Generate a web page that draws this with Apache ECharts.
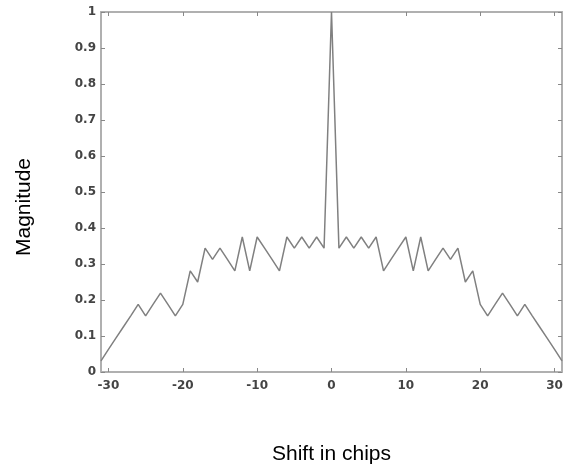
<!DOCTYPE html>
<html lang="en">
<head>
    <meta charset="UTF-8">
    <title>Shift in chips vs Magnitude</title>
    <script src="https://cdn.jsdelivr.net/npm/echarts@6/dist/echarts.min.js"></script>
    <style>
        html, body { margin: 0; padding: 0; background: #fff; }
        #chart-container { width: 568px; height: 470px; }
    </style>
</head>
<body>
    <div id="chart-container"></div>
    <script>
        var shifts = [-31, -30, -29, -28, -27, -26, -25, -24, -23, -22, -21, -20, -19, -18, -17, -16,
            -15, -14, -13, -12, -11, -10, -9, -8, -7, -6, -5, -4, -3, -2, -1, 0,
            1, 2, 3, 4, 5, 6, 7, 8, 9, 10, 11, 12, 13, 14, 15,
            16, 17, 18, 19, 20, 21, 22, 23, 24, 25, 26, 27, 28, 29, 30, 31];
        var magnitude = [0.031, 0.063, 0.094, 0.125, 0.156, 0.188, 0.156, 0.188, 0.219, 0.188, 0.156, 0.188, 0.281, 0.25, 0.344, 0.313,
            0.344, 0.313, 0.281, 0.375, 0.281, 0.375, 0.344, 0.313, 0.281, 0.375, 0.344, 0.375, 0.344, 0.375, 0.344, 1,
            0.344, 0.375, 0.344, 0.375, 0.344, 0.375, 0.281, 0.313, 0.344, 0.375, 0.281, 0.375, 0.281, 0.313, 0.344,
            0.313, 0.344, 0.25, 0.281, 0.188, 0.156, 0.188, 0.219, 0.188, 0.156, 0.188, 0.156, 0.125, 0.094, 0.063, 0.031];
        var xTicks = [-30, -20, -10, 0, 10, 20, 30];

        var frameColor = '#b0b0b0';
        var labelStyle = {
            color: '#444',
            fontFamily: 'DejaVu Sans, sans-serif',
            fontWeight: 'bold',
            fontSize: 12
        };
        var titleStyle = {
            color: '#000',
            fontFamily: 'Liberation Sans, Arial, sans-serif',
            fontSize: 21
        };

        function xAxisBase(pos, showLabels) {
            return {
                type: 'value',
                position: pos,
                min: -31,
                max: 31,
                axisLine: { show: true, onZero: false, lineStyle: { color: frameColor, width: 2 } },
                axisTick: { show: true, inside: true, length: 4, customValues: xTicks, lineStyle: { color: '#888' } },
                axisLabel: Object.assign({ show: showLabels, customValues: xTicks, margin: 8 }, labelStyle),
                splitLine: { show: false }
            };
        }

        function yAxisBase(pos, showLabels) {
            return {
                type: 'value',
                position: pos,
                min: 0,
                max: 1,
                interval: 0.1,
                axisLine: { show: true, onZero: false, lineStyle: { color: frameColor, width: 2 } },
                axisTick: { show: true, inside: true, length: 4, lineStyle: { color: '#888' } },
                axisLabel: Object.assign({
                    show: showLabels,
                    margin: 5,
                    formatter: function (v) { return String(Math.round(v * 10) / 10); }
                }, labelStyle),
                splitLine: { show: false }
            };
        }

        var myChart = echarts.init(document.getElementById('chart-container'));

        var xBottom = xAxisBase('bottom', true);
        xBottom.name = 'Shift in chips';
        xBottom.nameLocation = 'middle';
        xBottom.nameGap = 72;
        xBottom.nameTextStyle = titleStyle;

        var yLeft = yAxisBase('left', true);
        yLeft.name = 'Magnitude';
        yLeft.nameLocation = 'middle';
        yLeft.nameGap = 66;
        yLeft.nameTextStyle = Object.assign({ padding: [0, 30, 0, 0] }, titleStyle);

        var option = {
            animation: false,
            grid: {
                left: 101,
                right: 6,
                top: 12,
                bottom: 97
            },
            xAxis: [xBottom, xAxisBase('top', false)],
            yAxis: [yLeft, yAxisBase('right', false)],
            series: [{
                name: 'Magnitude',
                type: 'line',
                xAxisIndex: 0,
                yAxisIndex: 0,
                showSymbol: false,
                lineStyle: { color: '#808080', width: 1.5 },
                data: shifts.map(function (s, i) { return [s, magnitude[i]]; })
            }]
        };

        myChart.setOption(option);
    </script>
</body>
</html>
